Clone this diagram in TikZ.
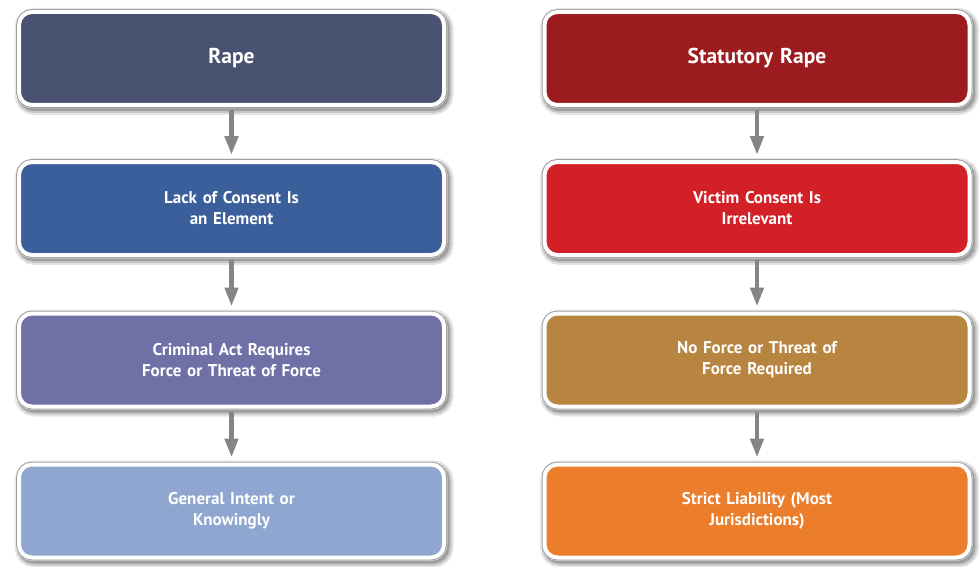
\documentclass[tikz,border=0pt]{standalone}
\usepackage{fontspec}
\setmainfont{PT Sans}
\usetikzlibrary{arrows.meta}
\definecolor{cRape}{HTML}{4A5272}
\definecolor{cLack}{HTML}{3A5F9A}
\definecolor{cCrim}{HTML}{6E70A6}
\definecolor{cGen}{HTML}{8FA6D0}
\definecolor{cStat}{HTML}{9B1B1F}
\definecolor{cVict}{HTML}{D32027}
\definecolor{cNoF}{HTML}{B88540}
\definecolor{cStr}{HTML}{EB7D2B}
\definecolor{arrgray}{HTML}{858585}
\tikzset{
  box/.style={rounded corners=13pt, draw=white, line width=4pt,
    minimum width=425pt, minimum height=93pt, inner sep=0pt,
    text width=330pt, align=center, text=white, font=\bfseries\fontsize{17}{21}\selectfont,
    preaction={draw=black, draw opacity=0.10, line width=14pt, transform canvas={shift={(2.5pt,-3pt)}}},
    preaction={draw=black, draw opacity=0.14, line width=10pt, transform canvas={shift={(2.5pt,-3pt)}}},
    preaction={draw=black, draw opacity=0.20, line width=7pt, transform canvas={shift={(2pt,-2.5pt)}}},
    preaction={draw=white, line width=6.5pt},
    preaction={draw=black!38, line width=6pt}},
  titlebox/.style={box, font=\bfseries\fontsize{21.5}{24}\selectfont},
  flow/.style={arrgray, line width=4.5pt, -{Triangle[width=13pt,length=19pt]}}
}
\begin{document}
\begin{tikzpicture}[x=1pt,y=-1pt]
\useasboundingbox (0,0) rectangle (979,567);
\node[titlebox, fill=cRape] (r1) at (231.5,58.5) {Rape};
\node[box, fill=cLack] (r2) at (231.5,208.5) {Lack of Consent Is\\an Element};
\node[box, fill=cCrim] (r3) at (231.5,360) {Criminal Act Requires\\Force or Threat of Force};
\node[box, fill=cGen] (r4) at (231.5,511) {General Intent or\\Knowingly};
\node[titlebox, fill=cStat] (s1) at (757,58.5) {Statutory Rape};
\node[box, fill=cVict] (s2) at (757,208.5) {Victim Consent Is\\Irrelevant};
\node[box, fill=cNoF] (s3) at (757,360) {No Force or Threat of\\Force Required};
\node[box, fill=cStr] (s4) at (757,511) {Strict Liability (Most\\Jurisdictions)};
\foreach \a/\b in {r1/r2,r2/r3,r3/r4,s1/s2,s2/s3,s3/s4}{
  \draw[flow] ([yshift=-3pt]\a.south) -- ([yshift=5pt]\b.north);
}
\end{tikzpicture}
\end{document}
